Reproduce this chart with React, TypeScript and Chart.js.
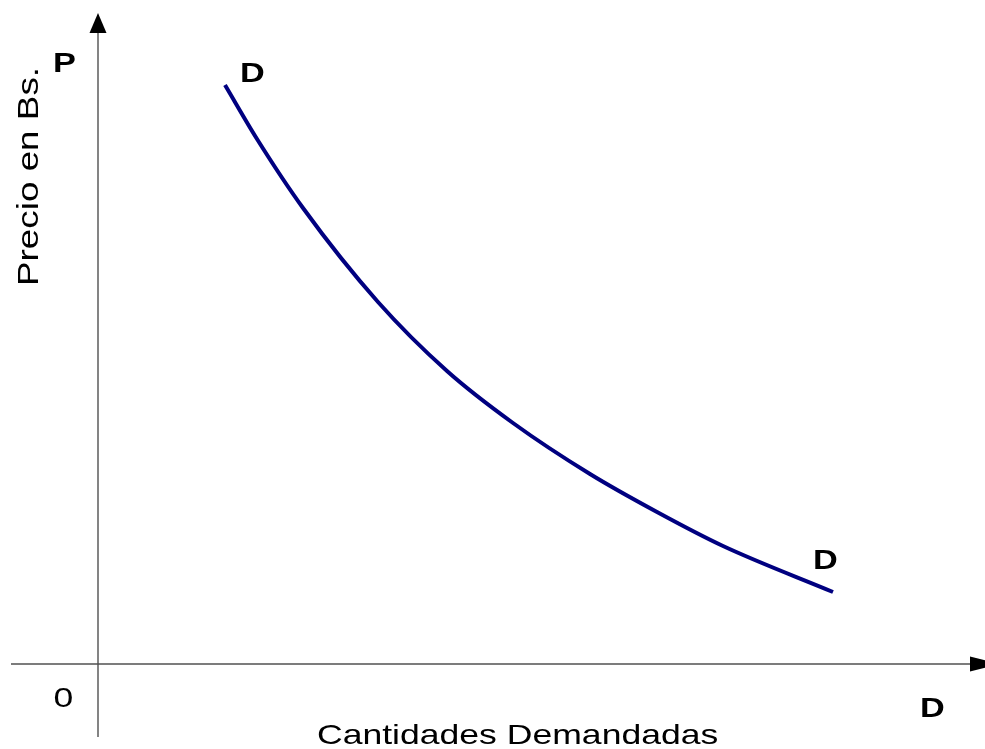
import React, { useEffect, useRef } from "react";
import { Chart, registerables } from "chart.js";

Chart.register(...registerables);

// Demand curve (quantity, price) in diagram units, origin at the axes crossing
const quantities = [127, 159, 205, 280, 349, 415, 492, 559, 625, 735];
const prices = [579, 525, 456, 362, 293, 241, 190, 152, 118, 72];

const curveName = "D";
const xTitle = "Cantidades Demandadas";
const yTitle = "Precio en Bs.";
const priceLetter = "P";
const originLabel = "0";

const xView = [-98, 887];
const yView = [-85, 664];

const FONT = '"Liberation Sans", Arial, Helvetica, sans-serif';
const STRETCH = 1.27;

const diagramPlugin = {
  id: "diagram",
  beforeDatasetsDraw(chart: any) {
    const ctx = chart.ctx as CanvasRenderingContext2D;
    const xs = chart.scales.x;
    const ys = chart.scales.y;
    const px = (v: number) => xs.getPixelForValue(v);
    const py = (v: number) => ys.getPixelForValue(v);
    ctx.save();
    ctx.strokeStyle = "#505050";
    ctx.lineWidth = 1.4;
    // horizontal axis
    ctx.beginPath();
    ctx.moveTo(px(-87), py(0));
    ctx.lineTo(px(875), py(0));
    ctx.stroke();
    // vertical axis
    ctx.beginPath();
    ctx.moveTo(px(0), py(-73));
    ctx.lineTo(px(0), py(635));
    ctx.stroke();
    // arrowheads
    ctx.fillStyle = "#000";
    ctx.beginPath();
    ctx.moveTo(px(0), py(651));
    ctx.lineTo(px(0) - 8.5, py(631));
    ctx.lineTo(px(0) + 8.5, py(631));
    ctx.closePath();
    ctx.fill();
    ctx.beginPath();
    ctx.moveTo(px(902), py(0));
    ctx.lineTo(px(872), py(0) - 7.5);
    ctx.lineTo(px(872), py(0) + 7.5);
    ctx.closePath();
    ctx.fill();
    ctx.restore();
  },
  afterDatasetsDraw(chart: any) {
    const ctx = chart.ctx as CanvasRenderingContext2D;
    const xs = chart.scales.x;
    const ys = chart.scales.y;
    const px = (v: number) => xs.getPixelForValue(v);
    const py = (v: number) => ys.getPixelForValue(v);
    const text = (s: string, x: number, y: number, font: string, rot = 0) => {
      ctx.save();
      ctx.translate(px(x), py(y));
      if (rot) ctx.rotate(rot);
      ctx.scale(STRETCH, 1);
      ctx.font = font;
      ctx.fillStyle = "#000";
      ctx.textAlign = "left";
      ctx.textBaseline = "alphabetic";
      ctx.fillText(s, 0, 0);
      ctx.restore();
    };
    const bold = `bold 27px ${FONT}`;
    text(priceLetter, -45, 592, bold);
    text(curveName, 142, 582, bold);
    text(curveName, 715, 95, bold);
    text(curveName, 822, -53, bold);
    text(originLabel, -44.5, -43, `28px ${FONT}`);
    text(xTitle, 219, -80, `28px ${FONT}`);
    text(yTitle, -60, 378, `29px ${FONT}`, -Math.PI / 2);
  },
};

export default function App() {
  const ref = useRef<HTMLCanvasElement | null>(null);
  useEffect(() => {
    if (!ref.current) return;
    const chart = new Chart(ref.current, {
      type: "line",
      data: {
        datasets: [
          {
            label: curveName,
            data: quantities.map((q, i) => ({ x: q, y: prices[i] })),
            borderColor: "#000080",
            borderWidth: 4,
            pointRadius: 0,
            fill: false,
            cubicInterpolationMode: "monotone",
            borderCapStyle: "butt",
          } as any,
        ],
      },
      options: {
        animation: false,
        responsive: true,
        maintainAspectRatio: false,
        layout: { padding: 0 },
        plugins: {
          legend: { display: false },
          tooltip: { enabled: false },
          title: { display: false },
        },
        scales: {
          x: { type: "linear", min: xView[0], max: xView[1], display: false },
          y: { type: "linear", min: yView[0], max: yView[1], display: false },
        },
      },
      plugins: [diagramPlugin],
    });
    return () => chart.destroy();
  }, []);
  return (
    <div
      style={{
        position: "fixed",
        left: 0,
        top: 0,
        width: "985px",
        height: "749px",
        background: "#fff",
      }}
    >
      <canvas ref={ref} />
    </div>
  );
}
